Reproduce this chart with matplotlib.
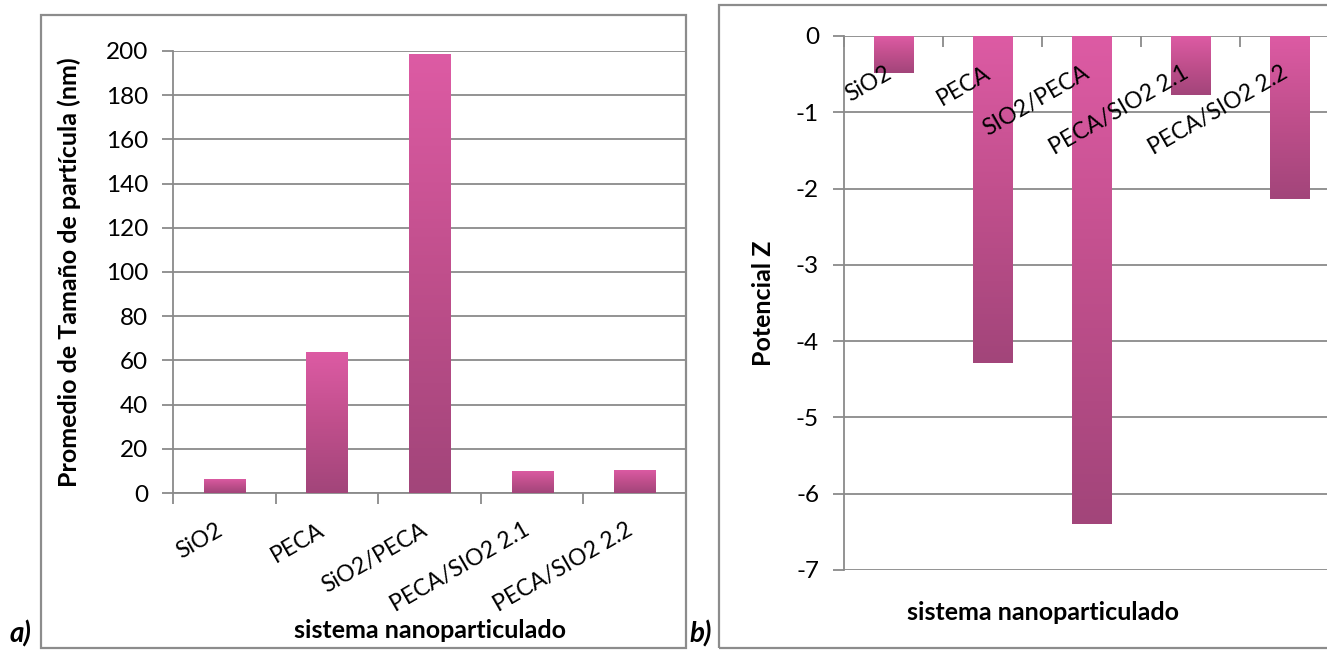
import matplotlib
matplotlib.use("Agg")
import matplotlib.pyplot as plt
import numpy as np
from matplotlib.patches import Rectangle
from matplotlib.colors import LinearSegmentedColormap
import matplotlib.transforms as mtransforms

# ---- data ----
cats_a = ["SiO2", "PECA", "SiO2/PECA", "PECA/SIO2 2.1", "PECA/SIO2 2.2"]
size_nm = [6.5, 64, 198.5, 10, 10.5]
cats_b = ["SiO2", "PECA", "SIO2/PECA", "PECA/SIO2 2.1", "PECA/SIO2 2.2"]
zeta = [-0.48, -4.28, -6.4, -0.77, -2.14]
yticks_a = [0, 20, 40, 60, 80, 100, 120, 140, 160, 180, 200]
yticks_b = [0, -1, -2, -3, -4, -5, -6, -7]

plt.rcParams['font.family'] = ['Lato', 'DejaVu Sans']
plt.rcParams['axes.unicode_minus'] = False
GRID = '#8a8a8a'
TOP_C = '#DD5BA4'
BOT_C = '#A2457A'
cmap = LinearSegmentedColormap.from_list('g', [BOT_C, '#C04F8C', TOP_C])

W, H = 1327, 650
fig = plt.figure(figsize=(W / 100, H / 100), dpi=100)

def px_axes(x0, y0, x1, y1):
    return fig.add_axes([x0 / W, 1 - y1 / H, (x1 - x0) / W, (y1 - y0) / H])

# outer boxes
fig.add_artist(Rectangle((41 / W, 1 - 648 / H), (686 - 41) / W, (648 - 15) / H,
                         transform=fig.transFigure, fill=False, ec='#8c8c8c', lw=1.6))
fig.add_artist(Rectangle((719 / W, 1 - 648 / H), (1340 - 719) / W, (648 - 5) / H,
                         transform=fig.transFigure, fill=False, ec='#8c8c8c', lw=1.6))

def gradient_bars(ax, values, width=0.4):
    bars = ax.bar(range(len(values)), values, width=width, color='none', edgecolor='none', zorder=3)
    grad = np.linspace(0, 1, 256).reshape(-1, 1)
    for b, v in zip(bars, values):
        x0 = b.get_x(); w = b.get_width()
        top, bot = (v, 0) if v >= 0 else (0, v)
        im = ax.imshow(grad, cmap=cmap, aspect='auto', origin='lower',
                       extent=[x0, x0 + w, bot, top], zorder=3, interpolation='bicubic')
        im.set_clip_path(b)
    return bars

TICK_FS = 17.5
CAT_FS = 16.5
LAB_FS = 18

def style(ax):
    for s in ['top', 'right', 'bottom', 'left']:
        ax.spines[s].set_visible(False)
    ax.spines['left'].set_visible(True)
    ax.spines['left'].set_color(GRID)
    ax.spines['left'].set_linewidth(1.3)
    ax.yaxis.grid(True, color=GRID, lw=1.3, zorder=0)
    ax.set_axisbelow(True)
    ax.tick_params(axis='y', direction='out', length=8, width=1.3, color=GRID,
                   labelsize=TICK_FS, pad=10)
    ax.set_facecolor('none')

off = mtransforms.ScaledTranslation(1 / 72, -19 / 72, fig.dpi_scale_trans)

# ---- chart a ----
axa = px_axes(173, 51, 686, 493)
gradient_bars(axa, size_nm)
axa.set_xlim(-0.5, 4.5)
axa.set_ylim(0, 200)
axa.set_yticks(yticks_a)
style(axa)
axa.spines['bottom'].set_visible(True)
axa.spines['bottom'].set_color(GRID)
axa.spines['bottom'].set_linewidth(1.3)
axa.set_xticks(np.arange(-0.5, 4.0, 1.0))
axa.tick_params(axis='x', direction='out', length=8, width=1.3, color=GRID, labelbottom=False)
for i, c in enumerate(cats_a):
    axa.text(i, 0, c, rotation=30, ha='right', va='top', fontsize=CAT_FS,
             transform=axa.transData + off)
axa.set_ylabel("Promedio de Tamaño de partícula (nm)", fontsize=LAB_FS, fontweight='bold', labelpad=18)
fig.text(430 / W, 1 - 630 / H, "sistema nanoparticulado", ha='center', va='center',
         fontsize=LAB_FS, fontweight='bold')
fig.text(10 / W, 1 - 634 / H, "a)", ha='left', va='center', fontsize=20,
         fontweight='bold', fontstyle='italic')

# ---- chart b ----
axb = px_axes(844, 36, 1339, 570)
gradient_bars(axb, zeta)
axb.set_xlim(-0.5, 4.5)
axb.set_ylim(-7, 0)
axb.set_yticks(yticks_b)
style(axb)
axb.set_xticks(np.arange(-0.5, 4.6, 1.0))
axb.xaxis.set_ticks_position('top')
axb.tick_params(axis='x', direction='in', length=8, width=1.3, color=GRID, labeltop=False)
for i, c in enumerate(cats_b):
    axb.text(i, 0, c, rotation=30, ha='right', va='top', fontsize=CAT_FS,
             transform=axb.transData + off)
axb.set_ylabel("Potencial Z", fontsize=LAB_FS, fontweight='bold', labelpad=15)
fig.text(1043 / W, 1 - 613 / H, "sistema nanoparticulado", ha='center', va='center',
         fontsize=LAB_FS, fontweight='bold')
fig.text(689 / W, 1 - 634 / H, "b)", ha='left', va='center', fontsize=20,
         fontweight='bold', fontstyle='italic')

fig.savefig("out.png", dpi=100)
